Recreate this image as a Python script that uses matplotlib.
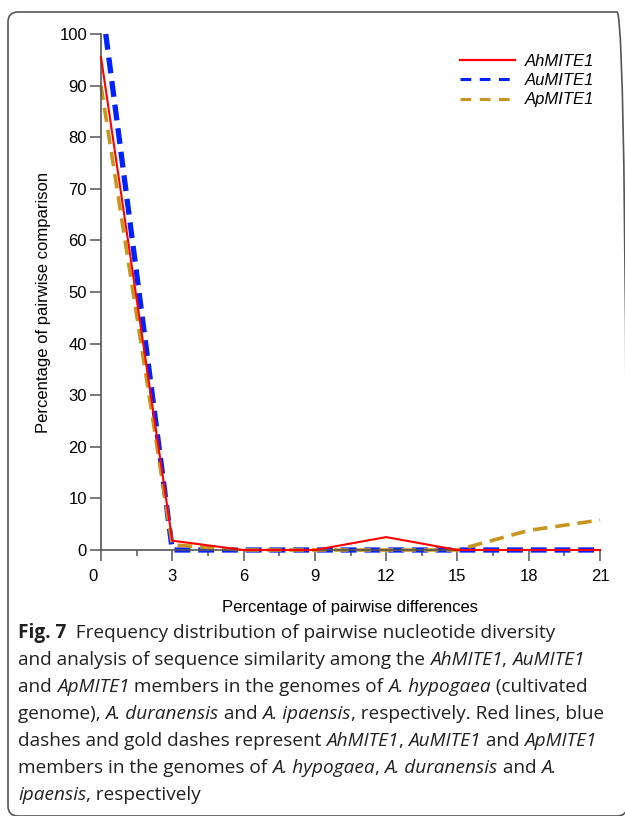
import numpy as np
import matplotlib
matplotlib.use("Agg")
import matplotlib.pyplot as plt
import matplotlib.transforms as mtransforms
from matplotlib.patches import FancyBboxPatch
from matplotlib.lines import Line2D
from matplotlib.ticker import MultipleLocator

# données
x = [0, 3, 6, 9, 12, 15, 18, 21]
ah_mite1 = [95.5, 1.8, 0, 0, 2.5, 0, 0, 0]
au_mite1 = [100, 0, 0, 0, 0, 0, 0, 0]
ap_mite1 = [90, 1.0, 0, 0, 0, 0, 3.8, 5.8]
x_ticks = [0, 3, 6, 9, 12, 15, 18, 21]
y_ticks = [0, 10, 20, 30, 40, 50, 60, 70, 80, 90, 100]
series_names = ["AhMITE1", "AuMITE1", "ApMITE1"]

caption = [
    [("Fig. 7", "bold"), ("  Frequency distribution of pairwise nucleotide diversity", "normal")],
    [("and analysis of sequence similarity among the ", "normal"), ("AhMITE1", "italic"),
     (", ", "normal"), ("AuMITE1", "italic")],
    [("and ", "normal"), ("ApMITE1", "italic"), (" members in the genomes of ", "normal"),
     ("A. hypogaea", "italic"), (" (cultivated", "normal")],
    [("genome), ", "normal"), ("A. duranensis", "italic"), (" and ", "normal"),
     ("A. ipaensis", "italic"), (", respectively. Red lines, blue", "normal")],
    [("dashes and gold dashes represent ", "normal"), ("AhMITE1", "italic"), (", ", "normal"),
     ("AuMITE1", "italic"), (" and ", "normal"), ("ApMITE1", "italic")],
    [("members in the genomes of ", "normal"), ("A. hypogaea", "italic"), (", ", "normal"),
     ("A. duranensis", "italic"), (" and ", "normal"), ("A.", "italic")],
    [("ipaensis", "italic"), (", respectively", "normal")],
]

plt.rcParams["font.family"] = "Liberation Sans"

W, H = 625, 816
fig = plt.figure(figsize=(W / 100, H / 100), dpi=100)

# cadre arrondi (en pouces)
box = FancyBboxPatch((0.08, 0.0), 6.19, 8.04,
                     boxstyle="round,pad=0,rounding_size=0.1",
                     transform=fig.dpi_scale_trans, fill=False, edgecolor="#555555",
                     linewidth=1.2, clip_on=False)
fig.patches.append(box)

red, blue, gold = "#ff0000", "#0022ff", "#c8961e"
ax = fig.add_axes([101 / W, 1 - 550 / H, (600 - 101) / W, (550 - 34) / H])
ax.plot(x, ah_mite1, color=red, lw=1.5, clip_on=False, zorder=3)
ax.plot([v + 0.2 if v == 0 else v for v in x], au_mite1, color=blue, lw=3.8,
        ls=(0, (3, 1.5)), clip_on=False, zorder=2)
ax.plot(x, ap_mite1, color=gold, lw=2.6, ls=(0, (4, 2.2)), clip_on=False, zorder=2)

ax.set_xlim(0, 21)
ax.set_ylim(0, 100)
ax.set_xticks(x_ticks)
ax.set_yticks(y_ticks)
ax.xaxis.set_minor_locator(MultipleLocator(1.5))
for s in ["top", "right"]:
    ax.spines[s].set_visible(False)
for s in ["left", "bottom"]:
    ax.spines[s].set_color("#555555")
    ax.spines[s].set_linewidth(1.2)
ax.tick_params(axis="both", which="major", length=8, width=1.1, color="#555555",
               labelsize=12, pad=6)
ax.tick_params(axis="x", which="minor", length=4, width=1.1, color="#555555")
ax.tick_params(axis="y", which="major", pad=2)
ax.set_xlabel("Percentage of pairwise differences", fontsize=12, labelpad=11)
ax.set_ylabel("Percentage of pairwise comparison", fontsize=12)
ax.yaxis.set_label_coords(-0.10, 0.48)
ax.set_facecolor("none")

# le "0" de l'axe x est décalé à gauche dans l'original
lab0 = ax.get_xticklabels()[0]
lab0.set_transform(lab0.get_transform() +
                   mtransforms.ScaledTranslation(-0.08, 0, fig.dpi_scale_trans))

handles = [Line2D([], [], color=red, lw=1.6),
           Line2D([], [], color=blue, lw=2.2, ls=(0, (3.5, 2.8))),
           Line2D([], [], color=gold, lw=2.2, ls=(0, (3.5, 2.8)))]
leg = ax.legend(handles, series_names, loc="upper right", bbox_to_anchor=(1.018, 0.99),
                frameon=False, handlelength=3.25, fontsize=12, labelspacing=0.25,
                handletextpad=0.6)
for t in leg.get_texts():
    t.set_fontstyle("italic")

# légende de la figure, texte avec italique mélangé
renderer = fig.canvas.get_renderer()
cap_font = "Open Sans"
cap_size = 13.7
y0 = 1 - 633 / H
for i, runs in enumerate(caption):
    xpos = 18
    ypos = y0 - i * 27 / H
    for txt, style in runs:
        kw = dict(fontsize=cap_size, family=cap_font, va="center", ha="left",
                  color="#231f20")
        if style == "bold":
            kw["fontweight"] = "bold"
        elif style == "italic":
            kw["fontstyle"] = "italic"
        t = fig.text(xpos / W, ypos, txt, **kw)
        bb = t.get_window_extent(renderer=renderer)
        xpos += bb.width

fig.savefig("out.png", dpi=100)
